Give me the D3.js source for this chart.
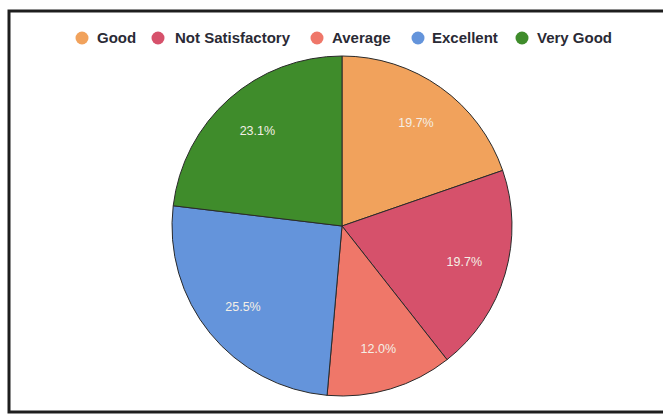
<!DOCTYPE html>
<html>
<head>
<meta charset="utf-8">
<script src="https://cdn.jsdelivr.net/npm/d3@7"></script>
<style>
  html, body { margin: 0; padding: 0; background: #fff; }
  svg { display: block; }
</style>
</head>
<body>
<svg id="chart" width="663" height="419"></svg>
<script>
const categories = ["Good", "Not Satisfactory", "Average", "Excellent", "Very Good"];
const values = [19.7, 19.7, 12.0, 25.5, 23.1];
const colors = ["#f1a25c", "#d6516b", "#ef7769", "#6494db", "#3f8c2b"];

const svg = d3.select("#chart");

// frame
svg.append("rect")
  .attr("x", 9).attr("y", 11)
  .attr("width", 670).attr("height", 401)
  .attr("fill", "none")
  .attr("stroke", "#1e1e1e")
  .attr("stroke-width", 3);

const data = categories.map((c, i) => ({ name: c, value: values[i], color: colors[i] }));

const cx = 342, cy = 226, R = 170;
const pie = d3.pie().value(d => d.value).sort(null);
const arc = d3.arc().innerRadius(0).outerRadius(R);
const labelArc = d3.arc().innerRadius(R * 0.75).outerRadius(R * 0.75);

const g = svg.append("g").attr("transform", `translate(${cx},${cy})`);
const arcs = pie(data);

g.selectAll("path")
  .data(arcs)
  .enter().append("path")
  .attr("d", arc)
  .attr("fill", d => d.data.color)
  .attr("stroke", "#2a2a2a")
  .attr("stroke-width", 1);

g.selectAll("text")
  .data(arcs)
  .enter().append("text")
  .attr("transform", d => `translate(${labelArc.centroid(d)})`)
  .attr("text-anchor", "middle")
  .attr("dy", "0.35em")
  .attr("font-family", "Liberation Sans, Arial, sans-serif")
  .attr("font-size", 12.5)
  .attr("fill", "#f4efe6")
  .text(d => d.data.value.toFixed(1) + "%");

// legend
const legendDotX = [82, 158, 317, 418, 522];
const legendTextX = [97, 175, 332, 432, 537];
const legend = svg.append("g");
data.forEach((d, i) => {
  legend.append("circle")
    .attr("cx", legendDotX[i]).attr("cy", 38)
    .attr("r", 6.5).attr("fill", d.color);
  legend.append("text")
    .attr("x", legendTextX[i]).attr("y", 38)
    .attr("dy", "0.35em")
    .attr("font-family", "Liberation Sans, Arial, sans-serif")
    .attr("font-weight", "bold")
    .attr("font-size", 15)
    .attr("fill", "#2a2a35")
    .text(d.name);
});
</script>
</body>
</html>
